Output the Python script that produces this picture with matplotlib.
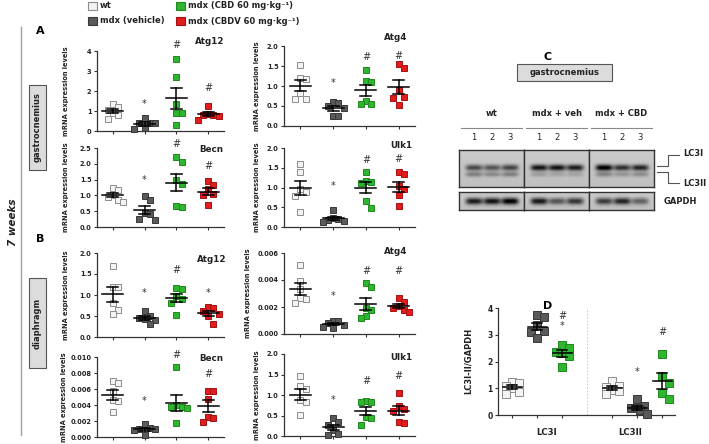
import numpy as np
import matplotlib
matplotlib.use("Agg")
import matplotlib.pyplot as plt
from matplotlib.patches import Rectangle
from matplotlib.lines import Line2D

plt.rcParams['font.family'] = ['DejaVu Sans']

W, H = 709, 444
fig = plt.figure(figsize=(W / 100, H / 100), dpi=100)

# ---------------- data ----------------
CATS = ['wt', 'mdx (vehicle)', 'mdx (CBD 60 mg·kg⁻¹)', 'mdx (CBDV 60 mg·kg⁻¹)']

gas_atg12 = [[1.37, 1.2, 1.05, 0.9, 0.8, 0.62],
             [0.65, 0.42, 0.4, 0.38, 0.15, 0.1],
             [3.6, 2.7, 1.35, 0.92, 0.9, 0.32],
             [1.25, 0.85, 0.82, 0.8, 0.75, 0.55]]
gas_atg12_marks = [(1, '*', 1.35), (2, '#', 4.3), (3, '#', 2.13)]

gas_atg4 = [[1.52, 1.2, 1.17, 0.82, 0.67, 0.67],
            [0.6, 0.58, 0.5, 0.45, 0.25, 0.25],
            [1.39, 1.13, 1.09, 0.62, 0.54, 0.56],
            [1.56, 1.46, 0.89, 0.73, 0.71, 0.52]]
gas_atg4_marks = [(1, '*', 1.07), (2, '#', 1.72), (3, '#', 1.75)]

gas_becn = [[1.25, 1.17, 1.0, 0.95, 0.87, 0.8],
            [0.97, 0.85, 0.45, 0.42, 0.25, 0.22],
            [2.22, 2.05, 1.5, 1.35, 0.68, 0.62],
            [1.45, 1.33, 1.2, 1.05, 1.0, 0.7]]
gas_becn_marks = [(1, '*', 1.5), (2, '#', 2.62), (3, '#', 1.93)]

gas_ulk1 = [[1.59, 1.38, 0.95, 0.89, 0.78, 0.37],
            [0.42, 0.22, 0.2, 0.18, 0.16, 0.13],
            [1.38, 1.17, 1.15, 1.12, 0.66, 0.47],
            [1.38, 1.35, 1.05, 0.95, 0.82, 0.52]]
gas_ulk1_marks = [(1, '*', 1.04), (2, '#', 1.7), (3, '#', 1.73)]

dia_atg12 = [[1.7, 1.2, 1.18, 0.82, 0.65, 0.55],
             [0.62, 0.5, 0.45, 0.43, 0.4, 0.3],
             [1.17, 1.14, 0.97, 0.9, 0.8, 0.53],
             [0.72, 0.7, 0.62, 0.55, 0.5, 0.32]]
dia_atg12_marks = [(1, '*', 1.04), (2, '#', 1.6), (3, '*', 1.04)]

dia_becn = [[0.0070, 0.0068, 0.0058, 0.0046, 0.0045, 0.0031],
            [0.0016, 0.0011, 0.0010, 0.00095, 0.0009, 0.0002],
            [0.0087, 0.0040, 0.0038, 0.0037, 0.0036, 0.0017],
            [0.0058, 0.0058, 0.0048, 0.0025, 0.0024, 0.0019]]
dia_becn_marks = [(1, '*', 0.0045), (2, '#', 0.0102), (3, '#', 0.0079)]

dia_atg4 = [[0.0051, 0.0039, 0.0033, 0.0027, 0.0026, 0.0023],
            [0.0010, 0.00095, 0.0008, 0.0007, 0.0005, 0.00045],
            [0.00375, 0.00345, 0.0019, 0.00175, 0.0013, 0.0012],
            [0.0027, 0.0024, 0.0021, 0.0019, 0.0018, 0.0016]]
dia_atg4_marks = [(1, '*', 0.0028), (2, '#', 0.0047), (3, '#', 0.0047)]

dia_ulk1 = [[1.47, 1.21, 1.15, 0.88, 0.82, 0.51],
            [0.44, 0.33, 0.28, 0.15, 0.04, 0.03],
            [0.86, 0.84, 0.82, 0.46, 0.43, 0.27],
            [1.04, 0.72, 0.65, 0.62, 0.33, 0.31]]
dia_ulk1_marks = [(1, '*', 0.88), (2, '#', 1.33), (3, '#', 1.46)]

# Panel D (densitometry)
D_GROUPS = ['LC3I', 'LC3II']
d_lc3i = [[1.25, 1.2, 1.09, 1.0, 0.87, 0.79],
          [3.72, 3.65, 3.35, 3.15, 3.1, 2.88],
          [2.6, 2.52, 2.37, 2.31, 2.19, 1.81]]
d_lc3ii = [[1.27, 1.08, 1.03, 0.95, 0.88, 0.8],
           [0.59, 0.32, 0.28, 0.25, 0.17, 0.03],
           [2.27, 1.44, 1.19, 0.84, 0.61]]
d_lc3i_marks = [(2, '#', 3.71), (2, '*', 3.31)]
d_lc3ii_marks = [(1, '*', 1.62), (2, '#', 3.12)]

# Panel C (blot band darkness per lane)
BLOT_GROUPS = ['wt', 'mdx + veh', 'mdx + CBD']
LANES = ['1', '2', '3']
lc3i_band = [[0.5, 0.45, 0.52], [0.72, 0.72, 0.68], [0.82, 0.6, 0.65]]
lc3ii_band = [[0.28, 0.24, 0.28], [0.15, 0.13, 0.13], [0.26, 0.18, 0.22]]
gapdh_band = [[0.68, 0.72, 0.8], [0.7, 0.45, 0.58], [0.55, 0.65, 0.4]]

# ---------------- helpers ----------------
FACE = ['#f3f3f3', '#5a5a5a', '#2fb52f', '#e01c1c']
EDGE = ['#8c8c8c', '#383838', '#1d8a1d', '#a51111']
TXT = '#222222'


def fx(x):
    return x / W


def fy(y):
    return 1 - y / H


def add_ax(x0, x1, ytop, ybot):
    return fig.add_axes([fx(x0), fy(ybot), (x1 - x0) / W, (ybot - ytop) / H])


def swarm(vals, yppu, d, vmult, maxk):
    vals = np.asarray(vals, float)
    ypix = vals * yppu
    order = np.argsort(-vals)
    placed = []
    off = np.zeros(len(vals))
    ks = [0, 1, -1, 2, -2, 0.5, -0.5, 1.5, -1.5]
    cands = [k * d for k in ks if abs(k) <= maxk]
    for i in order:
        best, bestscore = 0.0, -1
        for c in cands:
            score = min([max(abs(c - px) / d, abs(ypix[i] - py) / (vmult * d))
                         for px, py in placed] + [9])
            if score >= 1.0:
                best = c
                break
            if score > bestscore:
                best, bestscore = c, score
        off[i] = best
        placed.append((best, ypix[i]))
    return off


def style_ax(ax, positions, yticks, fmt, fs):
    for s in ['top', 'right']:
        ax.spines[s].set_visible(False)
    for s in ['left', 'bottom']:
        ax.spines[s].set_color('#333333')
        ax.spines[s].set_linewidth(0.9)
    ax.set_xticks(positions)
    ax.set_xticklabels([])
    ax.set_yticks(yticks)
    ax.set_yticklabels([fmt.format(t) for t in yticks], fontsize=fs,
                       fontweight='bold', color=TXT)
    ax.tick_params(axis='both', direction='out', length=2.5, width=0.8,
                   color='#333333', pad=1.5)
    ax.patch.set_alpha(0)


def draw_groups(ax, groups, positions, colors_idx, ms, hw_px, cw_px, d_px,
                vmult, maxk):
    pos = ax.get_position()
    xl = ax.get_xlim()
    yl = ax.get_ylim()
    xppu = pos.width * W / (xl[1] - xl[0])
    yppu = pos.height * H / (yl[1] - yl[0])
    for vals, xp, ci in zip(groups, positions, colors_idx):
        vals = np.asarray(vals, float)
        off = swarm(vals, yppu, d_px, vmult, maxk) / xppu
        ax.plot(xp + off, vals, 's', ms=ms, mfc=FACE[ci], mec=EDGE[ci],
                mew=0.7, zorder=3, clip_on=False)
        m = vals.mean()
        sem = vals.std(ddof=1) / np.sqrt(len(vals))
        hw = hw_px / xppu
        cw = cw_px / xppu
        kw = dict(color='black', lw=1.1, zorder=4)
        ax.plot([xp - hw, xp + hw], [m, m], **kw)
        ax.plot([xp, xp], [m - sem, m + sem], **kw)
        ax.plot([xp - cw, xp + cw], [m + sem, m + sem], **kw)
        ax.plot([xp - cw, xp + cw], [m - sem, m - sem], **kw)


def draw_marks(ax, marks, positions):
    for gi, sym, yv in marks:
        ax.text(positions[gi], yv, sym, ha='center', va='center', fontsize=7,
                color='#333333', clip_on=False, zorder=5)


def strip_panel(data, marks, x0, x1, ytop, ybot, ylim, yticks, fmt, title,
                title_px, ylabel_x):
    ax = add_ax(x0, x1, ytop, ybot)
    positions = list(range(len(data)))
    ax.set_xlim(-0.5, len(data) - 0.5)
    ax.set_ylim(*ylim)
    style_ax(ax, positions, yticks, fmt, 4.8)
    draw_groups(ax, data, positions, range(4), 3.7, 10.5, 5.5, 5.2, 1.5, 2)
    draw_marks(ax, marks, positions)
    fig.text(fx(title_px[0]), fy(title_px[1]), title, ha='center', va='center',
             fontsize=6.3, fontweight='bold', color=TXT)
    fig.text(fx(ylabel_x), fy((ytop + ybot) / 2), 'mRNA expression levels',
             rotation=90, ha='center', va='center', fontsize=4.8,
             fontweight='bold', color=TXT)
    return ax


# ---------------- left-hand decorations ----------------
fig.add_artist(Line2D([fx(21), fx(21)], [fy(27), fy(435)], color='#a0a0a0', lw=1.0))
fig.text(fx(13), fy(222), '7 weeks', rotation=90, ha='center', va='center',
         fontsize=7.5, fontweight='bold', fontstyle='italic', color=TXT)
fig.text(fx(40), fy(31), 'A', ha='center', va='center', fontsize=8, fontweight='bold')
fig.text(fx(40), fy(239), 'B', ha='center', va='center', fontsize=8, fontweight='bold')
for (yt, yb, lab) in [(85, 170, 'gastrocnemius'), (278, 368, 'diaphragm')]:
    fig.add_artist(Rectangle((fx(29), fy(yb)), 17 / W, (yb - yt) / H,
                             facecolor='#dcdcdc', edgecolor='#555555', lw=0.8))
    fig.text(fx(37.5), fy((yt + yb) / 2), lab, rotation=90, ha='center',
             va='center', fontsize=6, fontweight='bold', color=TXT)

# legend
leg_pos = [(88, 6), (88, 21), (176, 6), (176, 21)]
for i, (lx, ly) in enumerate(leg_pos):
    fig.add_artist(Rectangle((fx(lx), fy(ly + 4)), 8.5 / W, 8 / H,
                             facecolor=FACE[i], edgecolor=EDGE[i], lw=0.8))
    fig.text(fx(lx + 12), fy(ly), CATS[i], ha='left', va='center', fontsize=6,
             fontweight='bold', color=TXT)

# ---------------- strip panels ----------------
strip_panel(gas_atg12, gas_atg12_marks, 97, 224, 51, 131, (0, 4), [0, 1, 2, 3, 4],
            '{:.0f}', 'Atg12', (210, 41), 66)
strip_panel(gas_becn, gas_becn_marks, 97, 224, 148, 227, (0, 2.5),
            [0, 0.5, 1.0, 1.5, 2.0, 2.5], '{:.1f}', 'Becn', (211, 150), 66)
strip_panel(gas_atg4, gas_atg4_marks, 284, 415, 46, 126, (0, 2.0),
            [0, 0.5, 1.0, 1.5, 2.0], '{:.1f}', 'Atg4', (396, 37), 257)
strip_panel(gas_ulk1, gas_ulk1_marks, 284, 415, 148, 227, (0, 2.0),
            [0, 0.5, 1.0, 1.5, 2.0], '{:.1f}', 'Ulk1', (401, 146), 257)
strip_panel(dia_atg12, dia_atg12_marks, 97, 224, 253, 337, (0, 2.0),
            [0, 0.5, 1.0, 1.5, 2.0], '{:.1f}', 'Atg12', (212, 260), 66)
strip_panel(dia_becn, dia_becn_marks, 97, 224, 357, 437, (0, 0.010),
            [0, 0.002, 0.004, 0.006, 0.008, 0.010], '{:.3f}', 'Becn', (211, 358), 64)
strip_panel(dia_atg4, dia_atg4_marks, 284, 415, 253, 334, (0, 0.006),
            [0, 0.002, 0.004, 0.006], '{:.3f}', 'Atg4', (396, 252), 248)
strip_panel(dia_ulk1, dia_ulk1_marks, 284, 415, 354, 436, (0, 2.0),
            [0, 0.5, 1.0, 1.5, 2.0], '{:.1f}', 'Ulk1', (401, 357), 257)

# ---------------- panel C ----------------
fig.text(fx(548), fy(57), 'C', ha='center', va='center', fontsize=8, fontweight='bold')
fig.add_artist(Rectangle((fx(517), fy(81)), 95 / W, 17 / H, facecolor='#dcdcdc',
                         edgecolor='#555555', lw=0.8))
fig.text(fx(564.5), fy(72.5), 'gastrocnemius', ha='center', va='center',
         fontsize=6, fontweight='bold', color=TXT)

box_x = [(459, 524), (524, 589), (589, 654)]
lane_rel = [15, 33, 51]
SC = 3


def blot_img(h, w, rows):
    yy, xx = np.mgrid[0:h * SC, 0:w * SC] / SC
    img = np.full(yy.shape, 0.80) - 0.05 * (yy / h)
    for yc, sy, ints in rows:
        for xc, a in zip(lane_rel, ints):
            img = img - a * np.exp(-(np.abs(xx - xc) / 8.5) ** 4) * \
                np.exp(-((yy - yc) / sy) ** 2)
    return np.clip(img, 0, 1)


for gi, (bx0, bx1) in enumerate(box_x):
    gx = (bx0 + bx1) / 2
    fig.text(fx(gx), fy(113), BLOT_GROUPS[gi], ha='center', va='center',
             fontsize=6, fontweight='bold', color=TXT)
    fig.add_artist(Line2D([fx(bx0 + 2), fx(bx1 - 2)], [fy(128), fy(128)],
                          color='#888888', lw=0.8))
    for li, lr in enumerate(lane_rel):
        fig.text(fx(bx0 + lr), fy(138), LANES[li], ha='center', va='center',
                 fontsize=6, color=TXT)
    # LC3 blot
    ax = add_ax(bx0, bx1, 150, 187)
    img = blot_img(37, bx1 - bx0, [(18, 3.0, lc3i_band[gi]), (24.5, 2.4, lc3ii_band[gi])])
    ax.imshow(img, cmap='gray', vmin=0, vmax=1, aspect='auto', interpolation='bilinear')
    ax.set_xticks([]); ax.set_yticks([])
    for s in ax.spines.values():
        s.set_color('#333333'); s.set_linewidth(1.0)
    # GAPDH blot
    ax = add_ax(bx0, bx1, 192, 210)
    img = blot_img(18, bx1 - bx0, [(9.5, 3.2, gapdh_band[gi])])
    ax.imshow(img, cmap='gray', vmin=0, vmax=1, aspect='auto', interpolation='bilinear')
    ax.set_xticks([]); ax.set_yticks([])
    for s in ax.spines.values():
        s.set_color('#333333'); s.set_linewidth(1.0)

bk = dict(color='#555555', lw=0.8)
fig.add_artist(Line2D([fx(679), fx(668), fx(668), fx(657)],
                      [fy(155), fy(155), fy(166), fy(166)], **bk))
fig.add_artist(Line2D([fx(657), fx(668), fx(668), fx(679)],
                      [fy(172), fy(172), fy(183), fy(183)], **bk))
fig.text(fx(683), fy(154), 'LC3I', ha='left', va='center', fontsize=6,
         fontweight='bold', color=TXT)
fig.text(fx(683), fy(184), 'LC3II', ha='left', va='center', fontsize=6,
         fontweight='bold', color=TXT)
fig.text(fx(664), fy(201), 'GAPDH', ha='left', va='center', fontsize=6,
         fontweight='bold', color=TXT)

# ---------------- panel D ----------------
fig.text(fx(548), fy(306), 'D', ha='center', va='center', fontsize=8, fontweight='bold')
axd = add_ax(498, 675, 308, 415)
pos_i = [0, 1, 2]
pos_ii = [4, 5, 6]
axd.set_xlim(-0.56, 6.52)
axd.set_ylim(0, 4)
style_ax(axd, pos_i + pos_ii, [0, 1, 2, 3, 4], '{:.0f}', 5.5)
axd.axvline(3, color='#c0c0c0', lw=0.6, ls=(0, (2, 2)), zorder=1)
draw_groups(axd, d_lc3i, pos_i, [0, 1, 2], 5.6, 9.5, 5.0, 6.5, 1.3, 1.5)
draw_groups(axd, d_lc3ii, pos_ii, [0, 1, 2], 5.6, 9.5, 5.0, 6.5, 1.3, 1.5)
draw_marks(axd, d_lc3i_marks, pos_i)
draw_marks(axd, d_lc3ii_marks, pos_ii)
fig.text(fx(468), fy(361), 'LC3I-II/GAPDH', rotation=90, ha='center', va='center',
         fontsize=6, fontweight='bold', color=TXT)
fig.text(fx(547), fy(432), D_GROUPS[0], ha='center', va='center', fontsize=6.2,
         fontweight='bold', color=TXT)
fig.text(fx(630), fy(432), D_GROUPS[1], ha='center', va='center', fontsize=6.2,
         fontweight='bold', color=TXT)

fig.savefig('out.png', dpi=100)
